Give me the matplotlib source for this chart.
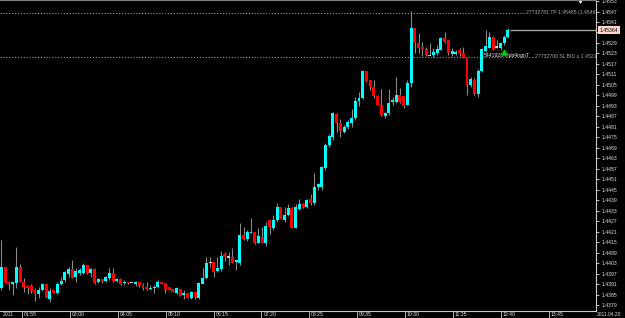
import numpy as np
import matplotlib
matplotlib.use("Agg")
import matplotlib.pyplot as plt
import matplotlib.transforms as mtransforms

plt.rcParams["font.family"] = ["Liberation Sans", "DejaVu Sans"]

opens = [
    1.43888, 1.44008, 1.43922, 1.43911, 1.43917, 1.44008, 1.43922, 1.43899, 1.43899, 1.43876,
    1.43853, 1.43876, 1.43911, 1.43825, 1.43876, 1.43859, 1.43911, 1.43934, 1.43968, 1.43997,
    1.43951, 1.43974, 1.43974, 1.44020, 1.43974, 1.43997, 1.43922, 1.43939, 1.43928, 1.43945,
    1.43974, 1.43928, 1.43939, 1.43917, 1.43922, 1.43917, 1.43911, 1.43922, 1.43905, 1.43894,
    1.43882, 1.43888, 1.43894, 1.43922, 1.43917, 1.43894, 1.43882, 1.43859, 1.43882, 1.43849,
    1.43859, 1.43831, 1.43865, 1.43831, 1.43911, 1.43945, 1.44031, 1.44037, 1.43985, 1.43997,
    1.44083, 1.44065, 1.44065, 1.44037, 1.44031, 1.44191, 1.44168, 1.44202, 1.44208, 1.44145,
    1.44179, 1.44145, 1.44277, 1.44231, 1.44277, 1.44351, 1.44277, 1.44305, 1.44345, 1.44231,
    1.44340, 1.44368, 1.44351, 1.44397, 1.44374, 1.44466, 1.44466, 1.44574, 1.44706, 1.44752,
    1.44883, 1.44832, 1.44780, 1.44809, 1.44832, 1.44861, 1.44958, 1.44975, 1.45130, 1.45078,
    1.45038, 1.44986, 1.44935, 1.44872, 1.44889, 1.44952, 1.44952, 1.44992, 1.44986, 1.44935,
    1.45061, 1.45376, 1.45290, 1.45267, 1.45256, 1.45221, 1.45221, 1.45233, 1.45250, 1.45318,
    1.45307, 1.45227, 1.45227, 1.45250, 1.45233, 1.45204, 1.45049, 1.45078, 1.44998, 1.45130,
    1.45244, 1.45261, 1.45324, 1.45267, 1.45261, 1.45290, 1.45324,
]
highs = [
    1.44162, 1.44008, 1.43928, 1.43922, 1.44122, 1.44025, 1.43945, 1.43905, 1.43911, 1.43888,
    1.43894, 1.43917, 1.43911, 1.43888, 1.43876, 1.43922, 1.43951, 1.43985, 1.44008, 1.44048,
    1.44002, 1.44002, 1.44031, 1.44020, 1.44002, 1.44002, 1.43945, 1.43939, 1.43957, 1.44002,
    1.44002, 1.43945, 1.43945, 1.43934, 1.43922, 1.43917, 1.43928, 1.43922, 1.43917, 1.43922,
    1.43905, 1.43905, 1.43934, 1.43922, 1.43917, 1.43894, 1.43882, 1.43894, 1.43882, 1.43876,
    1.43859, 1.43871, 1.43865, 1.43922, 1.44002, 1.44065, 1.44065, 1.44037, 1.44065, 1.44099,
    1.44094, 1.44094, 1.44116, 1.44048, 1.44260, 1.44237, 1.44220, 1.44288, 1.44208, 1.44231,
    1.44237, 1.44265, 1.44277, 1.44305, 1.44374, 1.44351, 1.44351, 1.44368, 1.44351, 1.44368,
    1.44397, 1.44374, 1.44397, 1.44426, 1.44546, 1.44489, 1.44586, 1.44717, 1.44769, 1.44895,
    1.44889, 1.44855, 1.44820, 1.44849, 1.44912, 1.44981, 1.45009, 1.45136, 1.45130, 1.45078,
    1.45078, 1.44992, 1.45027, 1.44895, 1.45027, 1.44981, 1.45095, 1.45032, 1.44986, 1.45078,
    1.45473, 1.45376, 1.45347, 1.45296, 1.45267, 1.45290, 1.45261, 1.45278, 1.45324, 1.45353,
    1.45307, 1.45261, 1.45250, 1.45261, 1.45267, 1.45204, 1.45095, 1.45090, 1.45141, 1.45261,
    1.45364, 1.45353, 1.45330, 1.45307, 1.45296, 1.45336, 1.45376,
]
lows = [
    1.43876, 1.43917, 1.43876, 1.43849, 1.43888, 1.43922, 1.43865, 1.43853, 1.43859, 1.43813,
    1.43831, 1.43871, 1.43831, 1.43807, 1.43859, 1.43853, 1.43905, 1.43922, 1.43951, 1.43945,
    1.43922, 1.43962, 1.43968, 1.43968, 1.43951, 1.43911, 1.43917, 1.43917, 1.43922, 1.43934,
    1.43922, 1.43922, 1.43905, 1.43905, 1.43911, 1.43917, 1.43899, 1.43894, 1.43876, 1.43876,
    1.43876, 1.43859, 1.43888, 1.43911, 1.43859, 1.43876, 1.43865, 1.43853, 1.43842, 1.43825,
    1.43831, 1.43825, 1.43825, 1.43825, 1.43911, 1.43939, 1.44008, 1.43951, 1.43979, 1.43985,
    1.44042, 1.44020, 1.44031, 1.43991, 1.44020, 1.44162, 1.44157, 1.44202, 1.44139, 1.44145,
    1.44145, 1.44128, 1.44197, 1.44220, 1.44265, 1.44282, 1.44265, 1.44300, 1.44231, 1.44231,
    1.44334, 1.44345, 1.44345, 1.44363, 1.44363, 1.44448, 1.44448, 1.44563, 1.44695, 1.44735,
    1.44780, 1.44752, 1.44775, 1.44798, 1.44809, 1.44849, 1.44929, 1.44969, 1.45067, 1.45021,
    1.44975, 1.44935, 1.44872, 1.44861, 1.44878, 1.44935, 1.44946, 1.44946, 1.44918, 1.44935,
    1.45038, 1.45233, 1.45233, 1.45215, 1.45215, 1.45221, 1.45210, 1.45221, 1.45250, 1.45290,
    1.45221, 1.45215, 1.45221, 1.45215, 1.45204, 1.44992, 1.45038, 1.44992, 1.44981, 1.45124,
    1.45238, 1.45261, 1.45250, 1.45261, 1.45250, 1.45278, 1.45318,
]
closes = [
    1.44008, 1.43917, 1.43911, 1.43922, 1.44008, 1.43922, 1.43894, 1.43888, 1.43871, 1.43853,
    1.43876, 1.43911, 1.43831, 1.43871, 1.43859, 1.43911, 1.43928, 1.43979, 1.43997, 1.43945,
    1.43985, 1.43991, 1.44020, 1.43974, 1.43997, 1.43917, 1.43939, 1.43928, 1.43951, 1.43974,
    1.43928, 1.43939, 1.43911, 1.43922, 1.43917, 1.43917, 1.43922, 1.43899, 1.43888, 1.43882,
    1.43888, 1.43894, 1.43922, 1.43911, 1.43882, 1.43876, 1.43865, 1.43888, 1.43842, 1.43859,
    1.43831, 1.43865, 1.43837, 1.43917, 1.43945, 1.44031, 1.44031, 1.43979, 1.44002, 1.44071,
    1.44065, 1.44065, 1.44031, 1.44048, 1.44191, 1.44168, 1.44208, 1.44208, 1.44145, 1.44185,
    1.44145, 1.44242, 1.44237, 1.44277, 1.44351, 1.44282, 1.44305, 1.44345, 1.44231, 1.44351,
    1.44368, 1.44351, 1.44391, 1.44374, 1.44466, 1.44483, 1.44580, 1.44706, 1.44758, 1.44889,
    1.44832, 1.44786, 1.44809, 1.44838, 1.44861, 1.44958, 1.44975, 1.45130, 1.45072, 1.45038,
    1.44986, 1.44935, 1.44878, 1.44889, 1.44946, 1.44964, 1.44992, 1.44952, 1.44929, 1.45061,
    1.45376, 1.45290, 1.45261, 1.45256, 1.45221, 1.45221, 1.45238, 1.45256, 1.45318, 1.45296,
    1.45233, 1.45244, 1.45238, 1.45233, 1.45204, 1.45049, 1.45084, 1.45004, 1.45130, 1.45256,
    1.45273, 1.45324, 1.45256, 1.45267, 1.45290, 1.45324, 1.45364,
]

# 1.4535 sits under the bid tag, so it is left blank
price_ticks = [1.4553, 1.4547, 1.4541, 1.4535, 1.4529, 1.4523, 1.4517, 1.4511,
               1.4505, 1.4499, 1.4493, 1.4487, 1.4481, 1.4475, 1.4469, 1.4463,
               1.4457, 1.4451, 1.4445, 1.4439, 1.4433, 1.4427, 1.4421, 1.4415,
               1.4409, 1.4403, 1.4397, 1.4391, 1.4385, 1.4379]
price_labels = ["1.4553", "1.4547", "1.4541", "", "1.4529", "1.4523", "1.4517", "1.4511",
                "1.4505", "1.4499", "1.4493", "1.4487", "1.4481", "1.4475", "1.4469", "1.4463",
                "1.4457", "1.4451", "1.4445", "1.4439", "1.4433", "1.4427", "1.4421", "1.4415",
                "1.4409", "1.4403", "1.4397", "1.4391", "1.4385", "1.4379"]
time_labels = ["01:55", "03:00", "04:05", "05:10", "06:15", "07:20", "08:25", "09:35",
               "10:30", "11:35", "12:40", "13:45"]
first_label = "2011"
date_label = "2011.04.20"

tp_text = "27732781 TP 1.45465 (1.45465)"
tp_price = 1.45462
sl_text = "27732700 SL BID \u2265 1.4521"
sl_price = 1.45210
bid_price = 1.45364
order_text = "5441928-Hpb4ngnT"
order_bar = 129.6
order_price = 1.45218
arrow_bar = 135
arrow_price = 1.45238

o = np.array(opens)
h = np.array(highs)
l = np.array(lows)
c = np.array(closes)
x = np.arange(len(o))

fig = plt.figure(figsize=(6.25, 3.18), dpi=100, facecolor="black")
ax = fig.add_axes([0, 7 / 318, 596 / 625, 311 / 318], facecolor="black")

xmin, xmax = -0.4, 159.64
ax.set_xlim(xmin, xmax)
ax.set_ylim(1.43756, 1.45536)

# wicks then bodies
ax.vlines(x, l, h, color="#8c8c8c", linewidth=0.75, zorder=2)
body = np.maximum(np.abs(c - o), 0.00006)
bottom = np.minimum(o, c)
up = c > o
down = c < o
flat = c == o
ax.bar(x[up], body[up], bottom=bottom[up], width=0.8, color="#00ffff", linewidth=0, zorder=3)
ax.bar(x[down], body[down], bottom=bottom[down], width=0.8, color="#ff0000", linewidth=0, zorder=3)
ax.bar(x[flat], body[flat], bottom=bottom[flat] - 0.00003, width=0.8, color="#d0d0d0", linewidth=0, zorder=3)

# order lines, labels run under the price scale like the terminal does
ax.hlines(tp_price, xmin, 140.6, color="#9a9a9a", linewidth=0.8, linestyle=(0, (1, 1.6)), zorder=1)
ax.hlines(sl_price, xmin, 143.0, color="#9a9a9a", linewidth=0.8, linestyle=(0, (1, 1.6)), zorder=1)
ax.text(140.8, tp_price, tp_text, ha="left", va="center", fontsize=3.7, color="#a8a8a8", clip_on=True)
ax.text(143.3, sl_price, sl_text, ha="left", va="center", fontsize=3.7, color="#a8a8a8", clip_on=True)

ax.text(order_bar, order_price, order_text, ha="left", va="center", fontsize=3.7, color="#e8e8e8", zorder=4)
ax.plot([arrow_bar], [arrow_price], marker="^", color="#00d000", markersize=3.5, linestyle="none", zorder=5)

# bid line and tag
yax = mtransforms.blended_transform_factory(ax.transAxes, ax.transData)
ax.hlines(bid_price, x[-1] + 0.5, xmax, color="#a0a0a0", linewidth=1.0, zorder=2)
ax.text(1.006, bid_price, "1.45364", transform=yax, ha="left", va="center", fontsize=3.7, color="black",
        bbox=dict(boxstyle="square,pad=0.3", fc="#ffd4cc", ec="none"), clip_on=False, zorder=6)

# chart shift marker
ax.plot([0.973], [1.0], marker="v", color="white", markersize=3.5, transform=ax.transAxes, clip_on=False)

ax.spines["left"].set_visible(False)
ax.spines["top"].set_color("#808080")
ax.spines["right"].set_color("#c8c8c8")
ax.spines["bottom"].set_color("#c8c8c8")
for side in ["top", "right", "bottom"]:
    ax.spines[side].set_linewidth(0.8)

ax.yaxis.tick_right()
ax.set_yticks(price_ticks)
ax.set_yticklabels(price_labels)
ax.tick_params(axis="y", length=2.5, width=0.6, pad=1.5, labelsize=3.7, colors="#e0e0e0")

tick_pos = [5.5 + 12.86 * i for i in range(len(time_labels))]
ax.set_xticks(tick_pos)
ax.set_xticklabels([])
ax.tick_params(axis="x", length=5, width=0.6, direction="out", colors="#c8c8c8")
xax = mtransforms.blended_transform_factory(ax.transData, ax.transAxes)
for pos, lab in zip(tick_pos, time_labels):
    ax.text(pos + 0.5, -0.0115, lab, transform=xax, ha="left", va="center", fontsize=3.7,
            color="#e0e0e0", clip_on=False)
ax.text(0.004, -0.0115, first_label, transform=ax.transAxes, ha="left", va="center", fontsize=3.7,
        color="#e0e0e0", clip_on=False)
fig.text(597 / 625, 3.5 / 318, date_label, ha="left", va="center", fontsize=3.5, color="#e0e0e0")

fig.savefig("out.png", dpi=100, facecolor="black")
